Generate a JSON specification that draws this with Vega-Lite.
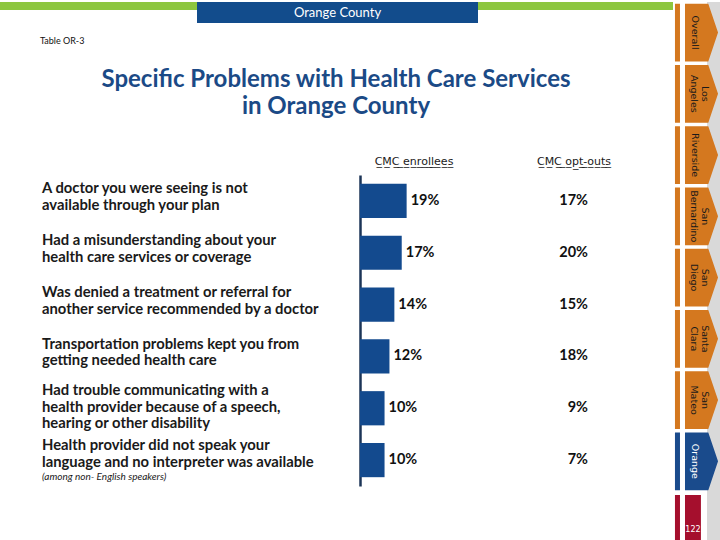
{
  "$schema": "https://vega.github.io/schema/vega-lite/v6.json",
  "background": "white",
  "padding": 0,
  "spacing": 0,
  "config": {"view": {"stroke": null}, "font": "Lato"},
  "datasets": {
    "problems": [
      {"problem": "A doctor you were seeing is not\navailable through your plan", "enrollees": 0.19, "optouts": 0.17},
      {"problem": "Had a misunderstanding about your\nhealth care services or coverage", "enrollees": 0.17, "optouts": 0.20},
      {"problem": "Was denied a treatment or referral for\nanother service recommended by a doctor", "enrollees": 0.14, "optouts": 0.15},
      {"problem": "Transportation problems kept you from\ngetting needed health care", "enrollees": 0.12, "optouts": 0.18},
      {"problem": "Had trouble communicating with a\nhealth provider because of a speech,\nhearing or other disability", "enrollees": 0.10, "optouts": 0.09},
      {"problem": "Health provider did not speak your\nlanguage and no interpreter was available", "enrollees": 0.10, "optouts": 0.07, "note": "(among non- English speakers)"}
    ],
    "tabs": [
      {"tab": "Overall"},
      {"tab": "Los\nAngeles"},
      {"tab": "Riverside"},
      {"tab": "San\nBernardino"},
      {"tab": "San\nDiego"},
      {"tab": "Santa\nClara"},
      {"tab": "San\nMateo"},
      {"tab": "Orange"},
      {"tab": "122"}
    ]
  },
  "hconcat": [
    {
      "spacing": 22,
      "vconcat": [
        {
          "bounds": "flush",
          "spacing": 0,
          "title": {"text": "Table OR-3", "orient": "bottom", "anchor": "start", "frame": "bounds", "dx": 40, "offset": 14, "fontSize": 9, "fontWeight": "normal", "color": "#111111"},
          "hconcat": [
            {"width": 197, "height": 8, "data": {"values": [{}]}, "mark": {"type": "text", "text": ""}, "view": {"fill": "#8DC63F", "stroke": null}},
            {"width": 281, "height": 21, "data": {"values": [{"label": "Orange County"}]}, "mark": {"type": "text", "color": "white", "fontSize": 13, "baseline": "middle"}, "encoding": {"text": {"field": "label"}}, "view": {"fill": "#124C8C", "stroke": null}},
            {"width": 195, "height": 8, "data": {"values": [{}]}, "mark": {"type": "text", "text": ""}, "view": {"fill": "#8DC63F", "stroke": null}}
          ]
        },
        {
          "bounds": "flush",
          "spacing": 0,
          "data": {"name": "problems"},
          "title": {"text": ["Specific Problems with Health Care Services", "in Orange County"], "anchor": "middle", "frame": "bounds", "fontSize": 24, "lineHeight": 27, "fontWeight": "bold", "color": "#1B4A86", "offset": 37},
          "hconcat": [
            {
              "width": 360, "height": 311,
              "encoding": {
                "y": {"field": "problem", "type": "nominal", "sort": null, "axis": null, "scale": {"type": "band", "paddingInner": 0.34, "paddingOuter": 0.17}}
              },
              "layer": [
                {
                  "transform": [{"filter": "!isValid(datum.note) && length(split(datum.problem, '\\n')) === 2"}],
                  "mark": {"type": "text", "align": "left", "baseline": "middle", "dx": -138, "dy": -11.5, "lineBreak": "\n", "lineHeight": 16.5, "fontSize": 14.8, "fontWeight": "bold", "color": "#1a1a1a"},
                  "encoding": {"text": {"field": "problem"}}
                },
                {
                  "transform": [{"filter": "length(split(datum.problem, '\\n')) === 3"}],
                  "mark": {"type": "text", "align": "left", "baseline": "middle", "dx": -138, "dy": -17, "lineBreak": "\n", "lineHeight": 16.5, "fontSize": 14.8, "fontWeight": "bold", "color": "#1a1a1a"},
                  "encoding": {"text": {"field": "problem"}}
                },
                {
                  "transform": [{"filter": "isValid(datum.note)"}],
                  "mark": {"type": "text", "align": "left", "baseline": "middle", "dx": -138, "dy": -14, "lineBreak": "\n", "lineHeight": 16.5, "fontSize": 14.8, "fontWeight": "bold", "color": "#1a1a1a"},
                  "encoding": {"text": {"field": "problem"}}
                },
                {
                  "transform": [{"filter": "isValid(datum.note)"}],
                  "mark": {"type": "text", "align": "left", "baseline": "middle", "dx": -138, "dy": 16.5, "fontSize": 10, "fontStyle": "italic", "color": "#1a1a1a"},
                  "encoding": {"text": {"field": "note"}}
                }
              ]
            },
            {
              "width": 108, "height": 311,
              "title": {"text": "C\u0332M\u0332C\u0332 \u0332e\u0332n\u0332r\u0332o\u0332l\u0332l\u0332e\u0332e\u0332s\u0332", "anchor": "middle", "font": "DejaVu Sans", "fontSize": 11, "fontWeight": "normal", "color": "#1a1a1a", "offset": 8},
              "encoding": {
                "y": {"field": "problem", "type": "nominal", "sort": null, "scale": {"type": "band", "paddingInner": 0.34, "paddingOuter": 0.17}, "axis": {"labels": false, "ticks": false, "title": null, "domainColor": "#1C3557", "domainWidth": 2.5, "grid": false}}
              },
              "layer": [
                {
                  "mark": {"type": "bar", "color": "#134A8E"},
                  "encoding": {"x": {"field": "enrollees", "type": "quantitative", "scale": {"domain": [0, 0.44], "nice": false}, "axis": null}}
                },
                {
                  "mark": {"type": "text", "align": "left", "baseline": "middle", "dx": 4, "fontSize": 14.5, "fontWeight": "bold", "color": "#111111"},
                  "encoding": {
                    "x": {"field": "enrollees", "type": "quantitative", "scale": {"domain": [0, 0.44], "nice": false}, "axis": null},
                    "text": {"field": "enrollees", "type": "quantitative", "format": ".0%"}
                  }
                }
              ]
            },
            {
              "width": 204, "height": 311,
              "title": {"text": "C\u0332M\u0332C\u0332 \u0332o\u0332p\u0332t\u0332-\u0332o\u0332u\u0332t\u0332s\u0332", "anchor": "middle", "dx": 4, "font": "DejaVu Sans", "fontSize": 11, "fontWeight": "normal", "color": "#1a1a1a", "offset": 8},
              "mark": {"type": "text", "align": "right", "baseline": "middle", "dx": 18, "fontSize": 14.5, "fontWeight": "bold", "color": "#111111"},
              "encoding": {
                "y": {"field": "problem", "type": "nominal", "sort": null, "axis": null, "scale": {"type": "band", "paddingInner": 0.34, "paddingOuter": 0.17}},
                "text": {"field": "optouts", "type": "quantitative", "format": ".0%"}
              }
            }
          ]
        }
      ]
    },
    {
      "width": 47, "height": 540,
      "data": {"name": "tabs"},
      "view": {"stroke": null, "fill": {"gradient": "linear", "x1": 0, "x2": 1, "y1": 0, "y2": 0, "stops": [{"offset": 0, "color": "#ffffff"}, {"offset": 0.73, "color": "#ffffff"}, {"offset": 0.73, "color": "#D9D9D9"}, {"offset": 1, "color": "#D9D9D9"}]}},
      "encoding": {"y": {"field": "tab", "type": "nominal", "sort": null, "axis": null, "scale": {"type": "point", "padding": 0.408, "align": 0.612}}},
      "layer": [
        {
          "mark": {"type": "point", "filled": true, "opacity": 1, "size": 3481, "strokeWidth": 0},
          "encoding": {
            "shape": {"condition": {"test": "datum.tab === '122'", "value": "M-0.73,-0.936 L-0.56,-0.936 L-0.56,0.66 L-0.73,0.66 Z M-0.39,-0.936 L0.15,-0.936 L0.15,0.66 L-0.39,0.66 Z"}, "value": "M-0.73,-0.98 L-0.56,-0.98 L-0.56,0.98 L-0.73,0.98 Z M-0.39,-0.98 L0.40,-0.98 L0.73,0 L0.40,0.98 L-0.39,0.98 Z"},
            "color": {"condition": [{"test": "datum.tab === 'Orange'", "value": "#1A4B8C"}, {"test": "datum.tab === '122'", "value": "#A50F2D"}], "value": "#D4781F"}
          }
        },
        {
          "transform": [{"filter": "datum.tab !== '122' && indexof(datum.tab, '\\n') < 0"}],
          "mark": {"type": "text", "angle": 90, "font": "DejaVu Sans", "fontSize": 9.5, "baseline": "middle", "align": "center", "dy": 2},
          "encoding": {
            "text": {"field": "tab"},
            "color": {"condition": {"test": "datum.tab === 'Orange'", "value": "white"}, "value": "#1a1a1a"},
            "fontWeight": {"condition": {"test": "datum.tab === 'Orange'", "value": "bold"}, "value": "normal"}
          }
        },
        {
          "transform": [{"filter": "indexof(datum.tab, '\\n') >= 0"}],
          "mark": {"type": "text", "angle": 90, "lineBreak": "\n", "font": "DejaVu Sans", "fontSize": 9.5, "lineHeight": 11, "baseline": "middle", "align": "center", "dy": -8, "color": "#1a1a1a"},
          "encoding": {"text": {"field": "tab"}}
        },
        {
          "transform": [{"filter": "datum.tab === '122'"}],
          "mark": {"type": "text", "font": "DejaVu Sans", "fontSize": 8, "color": "white", "baseline": "middle", "dy": 7.5, "dx": -3.5},
          "encoding": {"text": {"field": "tab"}}
        }
      ]
    }
  ]
}
